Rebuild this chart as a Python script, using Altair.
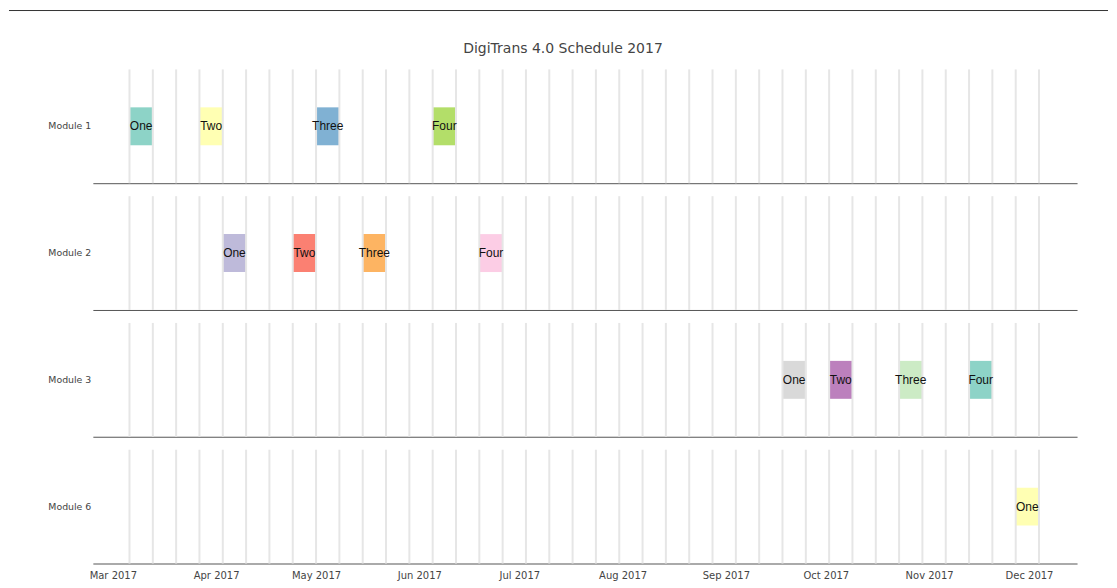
import altair as alt
import pandas as pd

TITLE = "DigiTrans 4.0 Schedule 2017"

modules = ["Module 1", "Module 2", "Module 3", "Module 6"]

task_module = ["Module 1", "Module 1", "Module 1", "Module 1",
               "Module 2", "Module 2", "Module 2", "Module 2",
               "Module 3", "Module 3", "Module 3", "Module 3",
               "Module 6"]
task_name = ["One", "Two", "Three", "Four",
             "One", "Two", "Three", "Four",
             "One", "Two", "Three", "Four",
             "One"]
task_start = ["2017-03-06", "2017-03-27", "2017-05-01", "2017-06-05",
              "2017-04-03", "2017-04-24", "2017-05-15", "2017-06-19",
              "2017-09-18", "2017-10-02", "2017-10-23", "2017-11-13",
              "2017-11-27"]
task_end = ["2017-03-13", "2017-04-03", "2017-05-08", "2017-06-12",
            "2017-04-10", "2017-05-01", "2017-05-22", "2017-06-26",
            "2017-09-25", "2017-10-09", "2017-10-30", "2017-11-20",
            "2017-12-04"]
task_color = ["#8dd3c7", "#ffffb3", "#80b1d3", "#b3de69",
              "#bebada", "#fb8072", "#fdb462", "#fccde5",
              "#d9d9d9", "#bc80bd", "#ccebc5", "#8dd3c7",
              "#ffffb3"]

week_lines = ["2017-03-06", "2017-03-13", "2017-03-20", "2017-03-27",
              "2017-04-03", "2017-04-10", "2017-04-17", "2017-04-24",
              "2017-05-01", "2017-05-08", "2017-05-15", "2017-05-22",
              "2017-05-29", "2017-06-05", "2017-06-12", "2017-06-19",
              "2017-06-26", "2017-07-03", "2017-07-10", "2017-07-17",
              "2017-07-24", "2017-07-31", "2017-08-07", "2017-08-14",
              "2017-08-21", "2017-08-28", "2017-09-04", "2017-09-11",
              "2017-09-18", "2017-09-25", "2017-10-02", "2017-10-09",
              "2017-10-16", "2017-10-23", "2017-10-30", "2017-11-06",
              "2017-11-13", "2017-11-20", "2017-11-27", "2017-12-04"]

month_ticks = [(2017, 3), (2017, 4), (2017, 5), (2017, 6), (2017, 7),
               (2017, 8), (2017, 9), (2017, 10), (2017, 11), (2017, 12)]

tasks = pd.DataFrame({"module": task_module, "task": task_name,
                      "start": task_start, "end": task_end,
                      "color": task_color})
weeks = pd.DataFrame({"week": week_lines})

W = 986
H = 114
FONT = "DejaVu Sans"

xscale = alt.Scale(
    type="utc",
    domain=[alt.DateTime(year=2017, month=2, date=23, utc=True),
            alt.DateTime(year=2017, month=12, date=15, hours=10, utc=True)],
)


def x_axis(show_labels):
    return alt.Axis(
        title=None,
        grid=False,
        ticks=False,
        labels=show_labels,
        format="%b %Y",
        values=[alt.DateTime(year=y, month=m, date=1, utc=True) for y, m in month_ticks],
        labelFont=FONT,
        labelFontSize=10,
        labelColor="#444444",
        labelPadding=7,
        domain=True,
        domainColor="#555555",
        domainWidth=1,
    )


def panel(mod, last, title=None):
    tdf = tasks[tasks["module"] == mod]
    ysc = alt.Scale(domain=[mod], paddingInner=0, paddingOuter=1)
    yax = alt.Axis(title=None, domain=False, ticks=False, labelPadding=2,
                   labelFont=FONT, labelFontSize=9.4, labelColor="#444444")
    bars = alt.Chart(tdf).mark_bar(opacity=1).encode(
        x=alt.X("start:T", scale=xscale, axis=x_axis(last), title=None),
        x2="end:T",
        y=alt.Y("module:N", scale=ysc, axis=yax, title=None),
        color=alt.Color("color:N", scale=None),
    )
    grid = alt.Chart(weeks).mark_rule(color="#e6e6e6", strokeWidth=2).encode(
        x=alt.X("week:T", scale=xscale, title=None),
    )
    text = alt.Chart(tdf).mark_text(
        font="Liberation Sans", fontSize=12, color="#111111", baseline="middle"
    ).transform_calculate(
        mid="(time(datum.start) + time(datum.end)) / 2"
    ).encode(
        x=alt.X("mid:T", scale=xscale, title=None),
        y=alt.Y("module:N", scale=ysc, title=None),
        text="task:N",
    )
    ch = alt.layer(bars, grid, text).properties(width=W, height=H)
    if title is not None:
        ch = ch.properties(title=alt.TitleParams(
            TITLE, font=FONT, fontSize=14, fontWeight="normal",
            color="#444444", anchor="middle", offset=12, dx=-22))
    return ch


top_line = alt.Chart(pd.DataFrame({"a": [0]})).mark_rule(
    color="#333333", strokeWidth=1
).encode(
    x=alt.value(-84), x2=alt.value(W + 31), y=alt.value(0)
).properties(width=W, height=21)

panels = [panel(m, i == len(modules) - 1, TITLE if i == 0 else None)
          for i, m in enumerate(modules)]

chart = alt.vconcat(top_line, *panels, spacing=11).properties(
    padding={"left": 0, "top": 1, "right": 0, "bottom": 2},
    background="white",
).configure_view(strokeWidth=0)

chart.save("out.html", embed_options={"renderer": "svg", "actions": False})
